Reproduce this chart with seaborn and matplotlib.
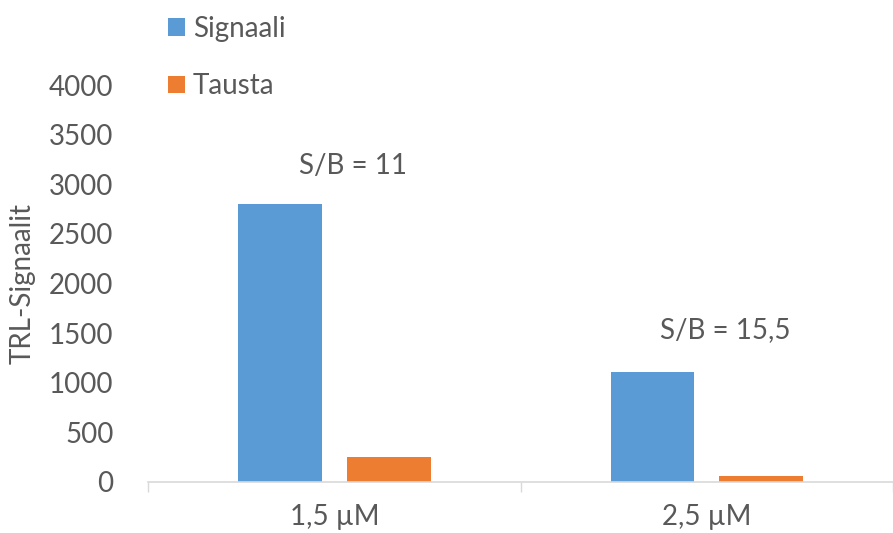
import matplotlib
matplotlib.use("Agg")
import matplotlib.pyplot as plt
import seaborn as sns
import pandas as pd
from matplotlib.ticker import FixedLocator

categories = ["1,5 µM", "2,5 µM"]
series_names = ["Signaali", "Tausta"]
signaali = [2800, 1110]
tausta = [250, 65]
annotations = ["S/B = 11", "S/B = 15,5"]
annotation_y = [3180, 1530]
yticks = [0, 500, 1000, 1500, 2000, 2500, 3000, 3500, 4000]

df = pd.DataFrame({
    "cat": categories * 2,
    "series": [series_names[0]] * 2 + [series_names[1]] * 2,
    "value": signaali + tausta,
})

sns.set_theme(style="white")
plt.rcParams["font.family"] = ["Lato", "DejaVu Sans"]
TXT = "#595959"
FS = 20

fig = plt.figure(figsize=(8.93, 5.33), dpi=100)
ax = fig.add_axes([0.166, 0.0957, 0.834, 0.7448])

sns.barplot(data=df, x="cat", y="value", hue="series",
            palette=["#5B9BD5", "#ED7D31"], width=0.584, gap=0.23,
            saturation=1, ax=ax, legend=True, edgecolor="none")

ax.set_xlim(-0.5, 1.5)
ax.set_ylim(0, 4000)
ax.set_yticks(yticks)
ax.set_yticklabels([str(v) for v in yticks], fontsize=FS, color=TXT)
ax.set_xticks(range(len(categories)))
ax.set_xticklabels(categories, fontsize=FS, color=TXT)
ax.xaxis.set_minor_locator(FixedLocator([-0.5, 0.5, 1.5]))
ax.tick_params(axis="x", which="major", length=0, pad=16)
ax.tick_params(axis="x", which="minor", length=7, width=1, color="#d9d9d9", bottom=True)
ax.tick_params(axis="y", length=0, pad=25)
ax.set_xlabel("")
ax.set_ylabel("TRL-Signaalit", fontsize=FS, color=TXT)
ax.yaxis.set_label_coords((36 - 148.2) / 744.8, 0.5)

for s in ["top", "right", "left"]:
    ax.spines[s].set_visible(False)
ax.spines["bottom"].set_color("#d9d9d9")
ax.spines["bottom"].set_linewidth(1.2)

for i, (txt, yv) in enumerate(zip(annotations, annotation_y)):
    ax.text(i + 0.05, yv, txt, ha="center", va="center", fontsize=FS, color=TXT)

handles, labels = ax.get_legend_handles_labels()
ax.get_legend().remove()
leg = fig.legend(handles, labels, loc="upper left",
                 bbox_to_anchor=(168 / 893, 1 - 16 / 533),
                 frameon=False, fontsize=FS, labelcolor=TXT,
                 handlelength=0.6, handleheight=0.6, handletextpad=0.3,
                 labelspacing=1.13, borderaxespad=0, borderpad=0)

fig.savefig("out.png", dpi=100)
